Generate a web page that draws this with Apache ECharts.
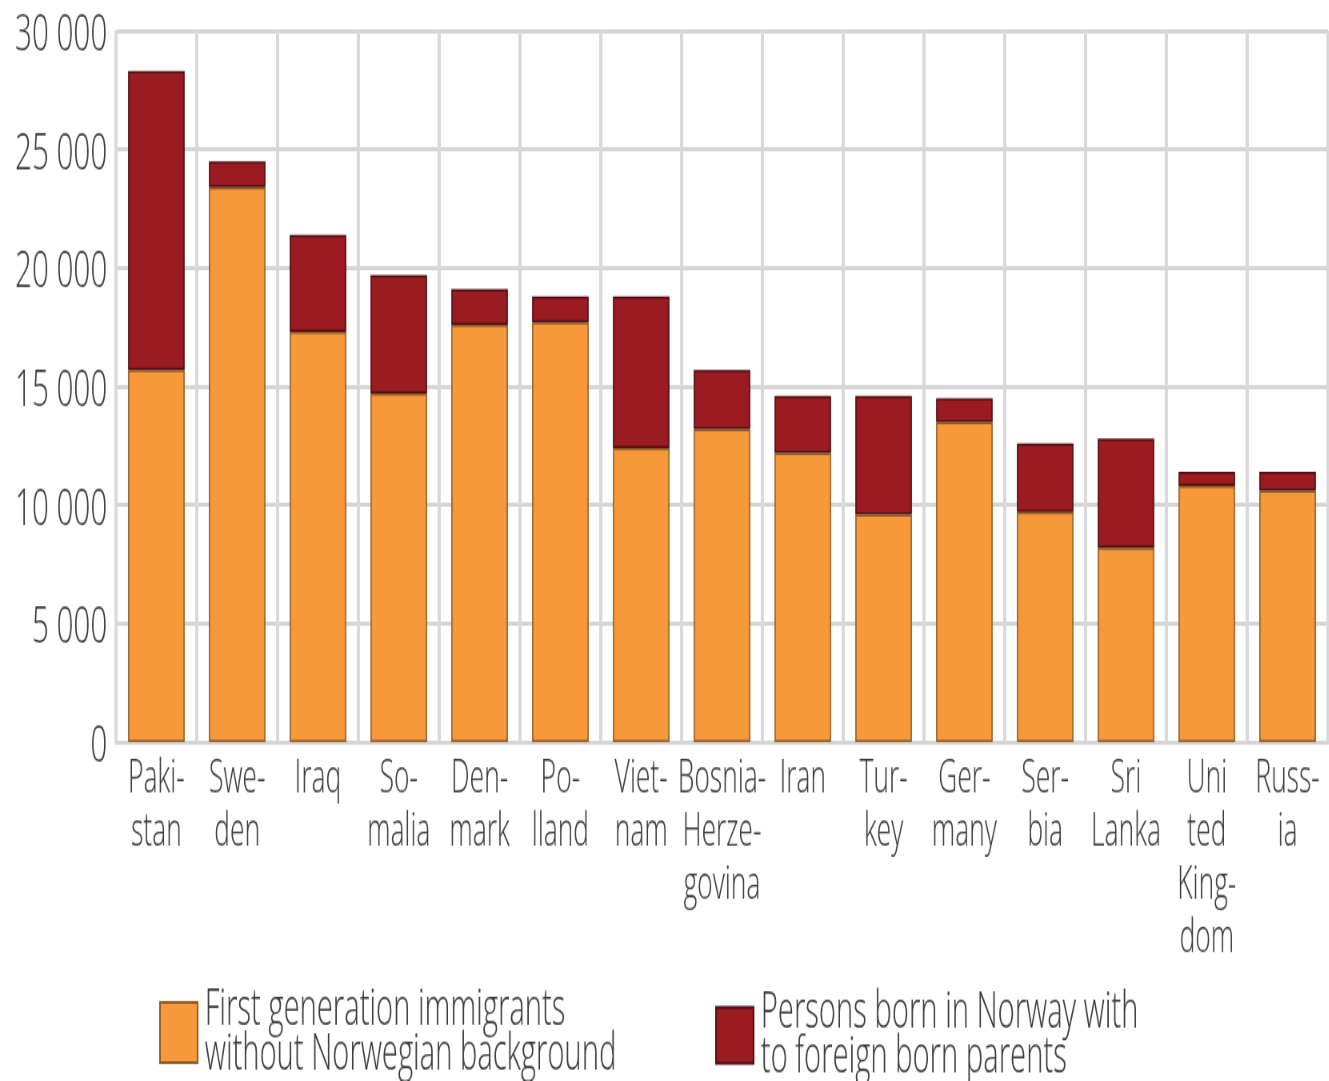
<!DOCTYPE html>
<html>
<head>
<meta charset="utf-8">
<title>Immigrants and Norwegian-born to immigrant parents, by country background</title>
<script src="https://cdn.jsdelivr.net/npm/echarts@6/dist/echarts.min.js"></script>
<style>
  html { margin: 0; padding: 0; overflow: hidden; background: #fff; }
  body { margin: 0; padding: 0; width: 1329px; height: 1081px; background: #fff; }
  /* The chart is laid out on a wide, low canvas and stretched into the
     1329 x 1081 page, which gives the tall, narrow lettering of the print. */
  #chart {
    width: 1661px;
    height: 772px;
    transform: scale(0.8, 1.4);
    transform-origin: 0 0;
  }
</style>
</head>
<body>
<div id="chart"></div>
<script>
// Country backgrounds, hyphenated as in the printed figure
const categories = [
  'Paki-\nstan', 'Swe-\nden', 'Iraq', 'So-\nmalia', 'Den-\nmark', 'Po-\nlland',
  'Viet-\nnam', 'Bosnia-\nHerze-\ngovina', 'Iran', 'Tur-\nkey', 'Ger-\nmany',
  'Ser-\nbia', 'Sri\nLanka', 'Uni\nted\nKing-\ndom', 'Russ-\nia'
];

// First generation immigrants without Norwegian background
const firstGeneration = [
  15700, 23400, 17300, 14700, 17600, 17700, 12400, 13200, 12200, 9600,
  13500, 9700, 8200, 10800, 10600
];

// Persons born in Norway to foreign born parents
const bornInNorway = [
  12600, 1100, 4100, 5000, 1500, 1100, 6400, 2500, 2400, 5000,
  1000, 2900, 4600, 600, 800
];

// Value axis ticks and their printed labels
const yTicks = [0, 5000, 10000, 15000, 20000, 25000, 30000];
const yTickLabels = ['0', '5 000', '10 000', '15 000', '20 000', '25 000', '30 000'];

const seriesNames = [
  'First generation immigrants\nwithout Norwegian background',
  'Persons born in Norway with\nto foreign born parents'
];

const ORANGE = '#F7993A';
const RED = '#9A1B20';
const GRID_GREY = '#d5d5d5';
const TEXT = '#3a3a3a';
const FONT = '"Open Sans", "Noto Sans", sans-serif';
const WEIGHT = 300;

const chart = echarts.init(document.getElementById('chart'), null, { renderer: 'canvas' });

const legendText = {
  fontFamily: FONT,
  fontWeight: WEIGHT,
  fontSize: 36.5,
  lineHeight: 32,
  color: TEXT,
  padding: [0, 0, 0, 4]
};

chart.setOption({
  animation: false,
  backgroundColor: '#ffffff',
  textStyle: { fontFamily: FONT, color: TEXT },
  grid: {
    left: 145,
    right: 1,
    top: 22,
    bottom: 242,
    containLabel: false
  },
  legend: [
    {
      data: [seriesNames[0]],
      left: 194,
      top: 698,
      orient: 'horizontal',
      icon: 'rect',
      itemWidth: 47,
      itemHeight: 43,
      itemGap: 0,
      textStyle: legendText
    },
    {
      data: [seriesNames[1]],
      left: 889,
      top: 700,
      orient: 'horizontal',
      icon: 'rect',
      itemWidth: 47,
      itemHeight: 40,
      itemGap: 0,
      textStyle: legendText
    }
  ],
  xAxis: {
    type: 'category',
    data: categories,
    boundaryGap: true,
    axisLine: { show: true, lineStyle: { color: GRID_GREY, width: 3 } },
    axisTick: { show: false },
    splitLine: { show: true, lineStyle: { color: '#d9d9d9', width: 4 } },
    axisLabel: {
      interval: 0,
      margin: 8,
      fontFamily: FONT,
      fontWeight: WEIGHT,
      fontSize: 33,
      lineHeight: 38,
      color: TEXT,
      align: 'center'
    }
  },
  yAxis: {
    type: 'value',
    min: yTicks[0],
    max: yTicks[yTicks.length - 1],
    interval: yTicks[1] - yTicks[0],
    axisLine: { show: false },
    axisTick: { show: false },
    splitLine: { show: true, lineStyle: { color: GRID_GREY, width: 3 } },
    axisLabel: {
      margin: 11,
      fontFamily: FONT,
      fontWeight: WEIGHT,
      fontSize: 37,
      color: TEXT,
      formatter: function (value) {
        const i = yTicks.indexOf(value);
        return i >= 0 ? '{v|' + yTickLabels[i] + '}' : '';
      },
      rich: {
        v: {
          fontFamily: FONT,
          fontWeight: WEIGHT,
          fontSize: 37,
          color: TEXT,
          padding: [7, 0, 0, 0]
        }
      }
    }
  },
  series: [
    {
      name: seriesNames[0],
      type: 'bar',
      stack: 'total',
      barWidth: '70%',
      data: firstGeneration,
      itemStyle: {
        color: ORANGE,
        borderColor: '#8C5A24',
        borderWidth: 1.5
      }
    },
    {
      name: seriesNames[1],
      type: 'bar',
      stack: 'total',
      barWidth: '70%',
      data: bornInNorway,
      itemStyle: {
        color: RED,
        borderColor: '#4E0E12',
        borderWidth: 1.5
      }
    }
  ]
});
</script>
</body>
</html>
